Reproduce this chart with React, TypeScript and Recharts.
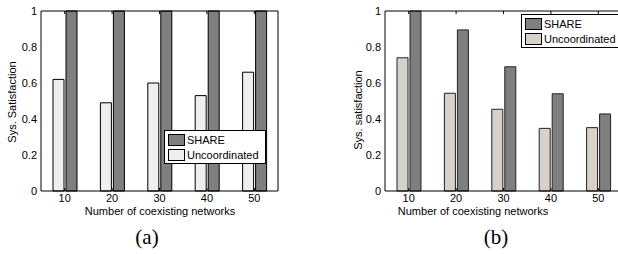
import { BarChart, Bar, XAxis, YAxis } from "recharts";

const networks = ["10", "20", "30", "40", "50"];
const shareA = [1, 1, 1, 1, 1];
const uncoordA = [0.62, 0.49, 0.6, 0.53, 0.66];
const shareB = [1, 0.895, 0.69, 0.54, 0.428];
const uncoordB = [0.74, 0.543, 0.454, 0.348, 0.352];
const yTicks = [0, 0.2, 0.4, 0.6, 0.8, 1];

const FONT = "'Liberation Sans', Arial, Helvetica, sans-serif";
const SHARE_FILL = "#7f7f7f";

const buildRows = (share: number[], uncoord: number[]) =>
  networks.map((n, i) => ({ n, share: share[i], uncoord: uncoord[i] }));

const tickStyle = { fontSize: 11, fill: "#000", fontFamily: FONT };

interface PanelProps {
  share: number[];
  uncoord: number[];
  uncoordFill: string;
  barStroke: string;
  width: number;
  yAxisWidth: number;
  marginRight: number;
  legendPos: { left: number; top: number; width: number };
}

function Legend2({ uncoordFill, pos }: { uncoordFill: string; pos: PanelProps["legendPos"] }) {
  const items = [
    { name: "SHARE", fill: SHARE_FILL },
    { name: "Uncoordinated", fill: uncoordFill },
  ];
  return (
    <div
      style={{
        position: "absolute",
        left: pos.left,
        top: pos.top,
        width: pos.width,
        background: "#fff",
        border: "1px solid #000",
        padding: "1px 3px 1px 3px",
        boxSizing: "border-box",
        fontFamily: FONT,
        fontSize: 11,
        lineHeight: "14px",
      }}
    >
      {items.map((it) => (
        <div key={it.name} style={{ display: "flex", alignItems: "center", height: 15 }}>
          <div
            style={{
              width: 15,
              height: 10,
              background: it.fill,
              border: "1px solid #000",
              marginRight: 2,
            }}
          />
          <span>{it.name}</span>
        </div>
      ))}
    </div>
  );
}

function Panel(p: PanelProps) {
  const data = buildRows(p.share, p.uncoord);
  return (
    <div style={{ position: "relative", width: p.width, height: 254 }}>
      <BarChart
        width={p.width}
        height={254}
        data={data}
        margin={{ top: 11, right: p.marginRight, bottom: 43, left: 0 }}
        barSize={11}
        barGap={2}
        barCategoryGap={0}
      >
        <XAxis
          dataKey="n"
          tick={tickStyle}
          tickLine={false}
          tickSize={0}
          tickMargin={3}
          height={20}
          axisLine={{ stroke: "#000" }}
        />
        <XAxis
          xAxisId="bt"
          dataKey="n"
          mirror
          tickFormatter={() => ""}
          tickSize={3}
          tickLine={{ stroke: "#000" }}
          axisLine={false}
        />
        <XAxis
          xAxisId="top"
          orientation="top"
          dataKey="n"
          mirror
          tickFormatter={() => ""}
          tickSize={3}
          tickLine={{ stroke: "#000" }}
          axisLine={{ stroke: "#000" }}
        />
        <YAxis
          domain={[0, 1]}
          ticks={yTicks}
          width={p.yAxisWidth}
          tick={tickStyle}
          tickLine={false}
          tickSize={0}
          tickMargin={4}
          axisLine={{ stroke: "#000" }}
        />
        <YAxis
          yAxisId="li"
          domain={[0, 1]}
          ticks={yTicks}
          mirror
          tickFormatter={() => ""}
          tickSize={3}
          tickLine={{ stroke: "#000" }}
          axisLine={false}
        />
        <YAxis
          yAxisId="ri"
          orientation="right"
          domain={[0, 1]}
          ticks={yTicks}
          mirror
          tickFormatter={() => ""}
          tickSize={3}
          tickLine={{ stroke: "#000" }}
          axisLine={{ stroke: "#000" }}
        />
        <Bar
          dataKey="uncoord"
          name="Uncoordinated"
          fill={p.uncoordFill}
          stroke={p.barStroke}
          strokeWidth={1}
          isAnimationActive={false}
        />
        <Bar
          dataKey="share"
          name="SHARE"
          fill={SHARE_FILL}
          stroke={p.barStroke}
          strokeWidth={1}
          isAnimationActive={false}
        />
      </BarChart>
      <Legend2 uncoordFill={p.uncoordFill} pos={p.legendPos} />
    </div>
  );
}

const absText = (extra: React.CSSProperties): React.CSSProperties => ({
  position: "absolute",
  fontFamily: FONT,
  fontSize: 11,
  whiteSpace: "nowrap",
  color: "#000",
  ...extra,
});

export default function App() {
  return (
    <div
      style={{
        position: "fixed",
        left: 0,
        top: 0,
        width: 618,
        height: 254,
        overflow: "hidden",
        background: "#fff",
      }}
    >
      <div style={{ position: "absolute", left: 0, top: 0 }}>
        <Panel
          share={shareA}
          uncoord={uncoordA}
          uncoordFill="#efefef"
          barStroke="#000"
          width={290}
          yAxisWidth={41}
          marginRight={12}
          legendPos={{ left: 164, top: 130, width: 102 }}
        />
      </div>
      <div style={{ position: "absolute", left: 308, top: 0 }}>
        <Panel
          share={shareB}
          uncoord={uncoordB}
          uncoordFill="#d6d2ca"
          barStroke="#222"
          width={330}
          yAxisWidth={77}
          marginRight={16}
          legendPos={{ left: 213, top: 14, width: 100 }}
        />
      </div>
      <div style={absText({ left: 12, top: 102, transform: "translate(-50%, -50%) rotate(-90deg)" })}>
        Sys. Satisfaction
      </div>
      <div style={absText({ left: 358, top: 110, transform: "translate(-50%, -50%) rotate(-90deg)" })}>
        Sys. satisfaction
      </div>
      <div style={absText({ left: 160, top: 211, transform: "translate(-50%, -50%)" })}>
        Number of coexisting networks
      </div>
      <div style={absText({ left: 473, top: 211, transform: "translate(-50%, -50%)" })}>
        Number of coexisting networks
      </div>
      <div
        style={absText({
          left: 147,
          top: 237,
          fontFamily: "'Liberation Serif', 'Times New Roman', serif",
          fontSize: 21,
          transform: "translate(-50%, -50%)",
        })}
      >
        (a)
      </div>
      <div
        style={absText({
          left: 496,
          top: 237,
          fontFamily: "'Liberation Serif', 'Times New Roman', serif",
          fontSize: 21,
          transform: "translate(-50%, -50%)",
        })}
      >
        (b)
      </div>
    </div>
  );
}
